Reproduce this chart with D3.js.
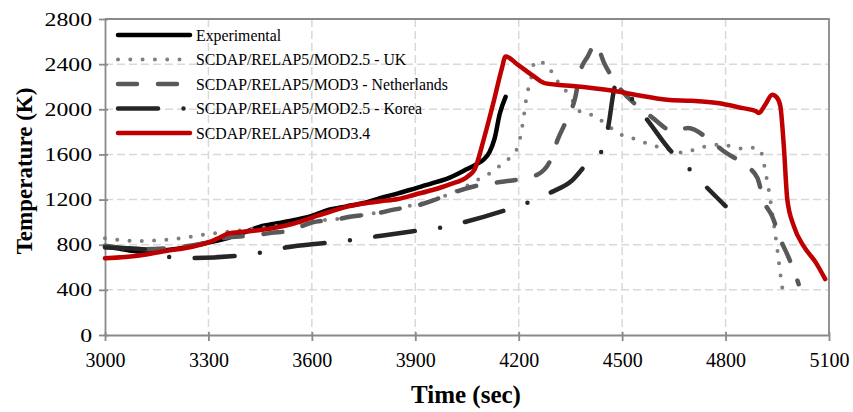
<!DOCTYPE html>
<html>
<head>
<meta charset="utf-8">
<script src="https://cdn.jsdelivr.net/npm/d3@7.9.0/dist/d3.min.js"></script>
<style>
  body { margin: 0; background: #fff; }
  svg { display: block; font-family: "Liberation Serif", "Times New Roman", serif; }
</style>
</head>
<body>
<div id="chart"></div>
<script>
// time (s), temperature (K)
const experimental = [
  [3000, 785], [3050, 760], [3100, 740], [3150, 745], [3200, 760], [3250, 785],
  [3300, 820], [3350, 855], [3400, 905], [3450, 960], [3500, 990], [3550, 1020],
  [3600, 1055], [3650, 1110], [3700, 1140], [3750, 1170], [3800, 1215], [3850, 1255],
  [3900, 1300], [3950, 1345], [4000, 1395], [4050, 1470], [4075, 1510], [4100, 1560],
  [4115, 1620], [4130, 1740], [4145, 1960], [4162, 2110]
];
const ukMod25 = [
  [3000, 857], [3100, 833], [3200, 850], [3300, 895], [3400, 930], [3465, 954],
  [3550, 985], [3600, 1010], [3682, 1030], [3750, 1065], [3821, 1098], [3888, 1148],
  [3928, 1172], [3995, 1245], [4040, 1305], [4082, 1378], [4120, 1440], [4149, 1510],
  [4178, 1584], [4198, 1672], [4212, 1879], [4223, 2114], [4237, 2290], [4246, 2423],
  [4275, 2408], [4313, 2246], [4342, 2144], [4382, 1970], [4420, 1943], [4448, 1879],
  [4507, 1761], [4545, 1731], [4580, 1687], [4613, 1661], [4680, 1616], [4718, 1652],
  [4786, 1687], [4854, 1649], [4888, 1661], [4902, 1628], [4918, 1407], [4925, 1290],
  [4935, 1086], [4950, 760], [4959, 539], [4969, 324]
];
const nlMod3 = [
  [3000, 790], [3100, 760], [3200, 775], [3300, 820], [3349, 862], [3421, 880],
  [3483, 905], [3538, 925], [3600, 997], [3671, 1024], [3715, 1050], [3784, 1075],
  [3841, 1113], [3899, 1142], [3950, 1190], [4000, 1250], [4072, 1318], [4130, 1349],
  [4198, 1378], [4255, 1422], [4295, 1570], [4313, 1731], [4342, 1923], [4362, 2080],
  [4380, 2349], [4400, 2467], [4423, 2580], [4448, 2408], [4490, 2200], [4545, 2026],
  [4583, 1937], [4650, 1805], [4691, 1834], [4758, 1717], [4795, 1628], [4854, 1510],
  [4892, 1393], [4911, 1186], [4935, 1054], [4959, 848], [4983, 686], [5007, 495],
  [5012, 450]
];
const krMod25 = [
  [3000, 775], [3127, 755], [3190, 690], [3257, 683], [3388, 703], [3455, 732],
  [3523, 775], [3648, 819], [3715, 842], [3784, 872], [3899, 921], [3975, 951],
  [4044, 1001], [4169, 1113], [4232, 1180], [4295, 1266], [4352, 1362], [4396, 1510],
  [4440, 1625], [4458, 1820], [4482, 2215], [4565, 1937], [4642, 1628], [4691, 1484],
  [4740, 1325], [4800, 1142]
];
const mod34 = [
  [3000, 680], [3100, 705], [3176, 745], [3250, 780], [3300, 820], [3330, 860],
  [3359, 900], [3400, 915], [3465, 936], [3500, 955], [3550, 990], [3600, 1040],
  [3650, 1090], [3706, 1140], [3750, 1165], [3800, 1185], [3850, 1205], [3900, 1245],
  [3950, 1285], [4000, 1335], [4053, 1407], [4072, 1466], [4100, 1750], [4130, 2100],
  [4150, 2350], [4162, 2467], [4198, 2394], [4240, 2300], [4275, 2232], [4371, 2202],
  [4487, 2158], [4545, 2125], [4631, 2085], [4700, 2075], [4776, 2055], [4850, 2010],
  [4887, 1985], [4896, 1967], [4915, 2040], [4935, 2129], [4950, 2100], [4959, 2025],
  [4969, 1672], [4979, 1201], [4998, 965], [5026, 789], [5060, 650], [5089, 495]
];

const seriesNames = [
  'Experimental',
  'SCDAP/RELAP5/MOD2.5 - UK',
  'SCDAP/RELAP5/MOD3 - Netherlands',
  'SCDAP/RELAP5/MOD2.5 - Korea',
  'SCDAP/RELAP5/MOD3.4'
];
const xTicks = [3000, 3300, 3600, 3900, 4200, 4500, 4800, 5100];
const yTicks = [0, 400, 800, 1200, 1600, 2000, 2400, 2800];

const series = [
  { name: seriesNames[0], values: experimental, color: '#000000', width: 4.5, dash: null },
  { name: seriesNames[1], values: ukMod25, color: '#7f7f7f', width: 4, dash: '0,12.3' },
  { name: seriesNames[2], values: nlMod3, color: '#595959', width: 4.5, dash: '19,21' },
  { name: seriesNames[3], values: krMod25, color: '#262626', width: 4.5, dash: '40,25.5,0,25.5' },
  { name: seriesNames[4], values: mod34, color: '#c00000', width: 4.5, dash: null }
];

const width = 853;
const height = 412;
const margin = { top: 19, right: 24, bottom: 77, left: 105 };
const plotW = width - margin.left - margin.right;
const plotH = height - margin.top - margin.bottom;
const axisColor = '#898989';

const svg = d3.select('#chart')
  .append('svg')
  .attr('width', width)
  .attr('height', height);

const x = d3.scaleLinear().domain([3000, 5100]).range([margin.left, margin.left + plotW]);
const y = d3.scaleLinear().domain([0, 2800]).range([margin.top + plotH, margin.top]);

// gridlines
const grid = svg.append('g').attr('class', 'grid');
grid.selectAll('.hgrid')
  .data(yTicks.slice(1, -1))
  .join('line')
  .attr('x1', margin.left).attr('x2', margin.left + plotW)
  .attr('y1', d => y(d)).attr('y2', d => y(d))
  .attr('stroke', '#d9d9d9').attr('stroke-width', 1.5)
  .attr('stroke-dasharray', '8,4');
grid.selectAll('.vgrid')
  .data(xTicks.slice(1, -1))
  .join('line')
  .attr('y1', margin.top).attr('y2', margin.top + plotH)
  .attr('x1', d => x(d)).attr('x2', d => x(d))
  .attr('stroke', '#d9d9d9').attr('stroke-width', 1.5)
  .attr('stroke-dasharray', '8,4');

// plot border (top/right)
svg.append('path')
  .attr('d', `M${margin.left},${margin.top}H${margin.left + plotW}V${margin.top + plotH}`)
  .attr('fill', 'none')
  .attr('stroke', axisColor)
  .attr('stroke-width', 1.8);

// axes
const xAxis = svg.append('g')
  .attr('transform', `translate(0,${margin.top + plotH})`)
  .call(d3.axisBottom(x).tickValues(xTicks).tickFormat(d3.format('d'))
    .tickSize(6).tickSizeOuter(0).tickPadding(12));
const yAxis = svg.append('g')
  .attr('transform', `translate(${margin.left},0)`)
  .call(d3.axisLeft(y).tickValues(yTicks).tickFormat(d3.format('d'))
    .tickSize(6).tickSizeOuter(0).tickPadding(7));

[xAxis, yAxis].forEach(g => {
  g.select('.domain').attr('stroke', axisColor).attr('stroke-width', 1.8);
  g.selectAll('.tick line').attr('stroke', axisColor).attr('stroke-width', 1.8);
  g.selectAll('.tick text')
    .attr('fill', '#000')
    .style('font-family', '"Liberation Serif", serif');
});
xAxis.selectAll('.tick text').style('font-size', '20px');
// y labels are drawn a little wider in the original
const yStretch = 1.25;
yAxis.selectAll('.tick text')
  .style('font-size', '19px')
  .attr('x', -13 / yStretch)
  .attr('transform', `scale(${yStretch},1)`);

// inner part of the crossing ticks
xAxis.selectAll('.tick').append('line').attr('y2', -3)
  .attr('stroke', axisColor).attr('stroke-width', 1.8);
yAxis.selectAll('.tick').append('line').attr('x2', 3)
  .attr('stroke', axisColor).attr('stroke-width', 1.8);

// axis titles
svg.append('text')
  .attr('x', margin.left + plotW / 2 - 1)
  .attr('y', 403)
  .attr('text-anchor', 'middle')
  .style('font-size', '25px')
  .style('font-weight', 'bold')
  .text('Time (sec)');
svg.append('text')
  .attr('transform', `translate(32,${margin.top + plotH / 2 - 6}) rotate(-90)`)
  .attr('text-anchor', 'middle')
  .style('font-size', '23px')
  .style('font-weight', 'bold')
  .text('Temperature (K)');

// series
const line = d3.line()
  .x(d => x(d[0]))
  .y(d => y(d[1]))
  .curve(d3.curveMonotoneX);

svg.append('g').selectAll('path')
  .data(series)
  .join('path')
  .attr('d', d => line(d.values))
  .attr('fill', 'none')
  .attr('stroke', d => d.color)
  .attr('stroke-width', d => d.width)
  .attr('stroke-linecap', 'round')
  .attr('stroke-linejoin', 'round')
  .attr('stroke-dasharray', d => d.dash);

// legend
const legend = svg.append('g').attr('transform', 'translate(118,35)');
const rows = legend.selectAll('g')
  .data(series)
  .join('g')
  .attr('transform', (d, i) => `translate(0,${i * 24.5})`);
rows.append('line')
  .attr('x1', 0).attr('x2', 72)
  .attr('stroke', d => d.color)
  .attr('stroke-width', d => d.width)
  .attr('stroke-linecap', 'round')
  .attr('stroke-dasharray', d => d.dash);
rows.append('text')
  .attr('x', 78)
  .attr('y', 5.5)
  .style('font-size', '15.8px')
  .text(d => d.name);
</script>
</body>
</html>
